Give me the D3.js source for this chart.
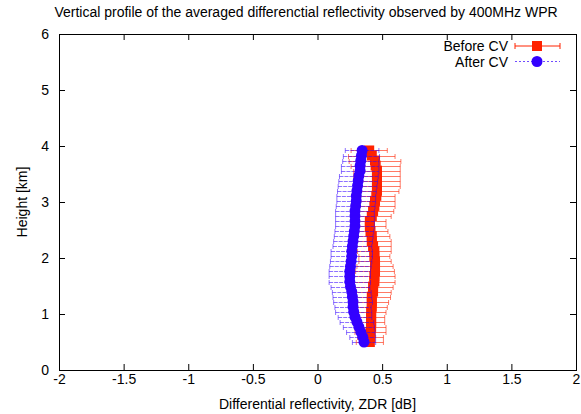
<!DOCTYPE html>
<html>
<head>
<meta charset="utf-8">
<script src="https://cdn.jsdelivr.net/npm/d3@7"></script>
<style>
  body { margin: 0; background: #fff; }
  svg text { font-family: "Liberation Sans", Arial, sans-serif; }
</style>
</head>
<body>
<svg id="chart" width="581" height="414"></svg>
<script>
// heights (km), top to bottom
var heights = [3.92, 3.83, 3.74, 3.65, 3.56, 3.47, 3.38, 3.29, 3.20, 3.11,
               3.02, 2.93, 2.84, 2.75, 2.66, 2.57, 2.48, 2.39, 2.30, 2.21,
               2.12, 2.03, 1.94, 1.85, 1.76, 1.67, 1.58, 1.49, 1.40, 1.31,
               1.22, 1.13, 1.04, 0.95, 0.86, 0.77, 0.68, 0.59, 0.50];

// Before CV: mean ZDR and error half width
var beforeVal = [0.40, 0.42, 0.445, 0.45, 0.46, 0.46, 0.46, 0.46, 0.46, 0.455,
                 0.445, 0.44, 0.43, 0.42, 0.405, 0.405, 0.41, 0.42, 0.42, 0.43,
                 0.44, 0.44, 0.445, 0.445, 0.445, 0.44, 0.44, 0.43, 0.43, 0.42,
                 0.42, 0.42, 0.415, 0.415, 0.415, 0.415, 0.41, 0.41, 0.405];
var beforeErr = [0.14, 0.18, 0.20, 0.19, 0.18, 0.18, 0.18, 0.18, 0.17, 0.145,
                 0.155, 0.16, 0.16, 0.15, 0.125, 0.125, 0.135, 0.14, 0.15, 0.14,
                 0.13, 0.12, 0.125, 0.14, 0.15, 0.16, 0.16, 0.155, 0.14, 0.145,
                 0.13, 0.12, 0.115, 0.105, 0.105, 0.115, 0.12, 0.10, 0.105];

// After CV
var afterVal = [0.345, 0.34, 0.335, 0.33, 0.33, 0.32, 0.315, 0.31, 0.305, 0.30,
                0.30, 0.295, 0.29, 0.29, 0.29, 0.29, 0.285, 0.28, 0.275, 0.27,
                0.265, 0.265, 0.26, 0.255, 0.25, 0.25, 0.25, 0.255, 0.265, 0.27,
                0.275, 0.275, 0.28, 0.29, 0.305, 0.32, 0.335, 0.35, 0.36];
var afterErr = [0.13, 0.14, 0.14, 0.145, 0.145, 0.15, 0.15, 0.15, 0.15, 0.15,
                0.15, 0.15, 0.15, 0.15, 0.15, 0.15, 0.15, 0.15, 0.15, 0.15,
                0.16, 0.16, 0.16, 0.16, 0.16, 0.16, 0.16, 0.15, 0.15, 0.15,
                0.15, 0.14, 0.14, 0.13, 0.13, 0.12, 0.11, 0.10, 0.09];

var xTicks = [-2, -1.5, -1, -0.5, 0, 0.5, 1, 1.5, 2];
var yTicks = [0, 1, 2, 3, 4, 5, 6];

var RED = "#ff2200", BLUE = "#3300ff";
var FS = 14;

var svg = d3.select("#chart");
var padL = 59, padR = 576, padT = 34, padB = 370;

var x = d3.scaleLinear().domain([-2, 2]).range([padL, padR]);
var y = d3.scaleLinear().domain([0, 6]).range([padB, padT]);

function series(vals, errs) {
    return heights.map(function(h, i) { return { h: h, v: vals[i], e: errs[i] }; });
}
var before = series(beforeVal, beforeErr);
var after = series(afterVal, afterErr);

var plain = function(d) { return String(d); };

// axes with inward ticks, mirrored on top and right
svg.append("g").attr("transform", "translate(0," + padB + ")")
    .call(d3.axisBottom(x).tickValues(xTicks).tickSize(-6).tickPadding(4).tickFormat(plain));
svg.append("g").attr("transform", "translate(" + padL + ",0)")
    .call(d3.axisLeft(y).tickValues(yTicks).tickSize(-6).tickPadding(10).tickFormat(plain));
svg.append("g").attr("transform", "translate(0," + padT + ")")
    .call(d3.axisTop(x).tickValues(xTicks).tickSize(-6).tickFormat(""));
svg.append("g").attr("transform", "translate(" + padR + ",0)")
    .call(d3.axisRight(y).tickValues(yTicks).tickSize(-6).tickFormat(""));

svg.selectAll(".domain").remove();
svg.selectAll(".tick line").attr("stroke", "#000");
svg.selectAll(".tick text").attr("font-size", FS).attr("fill", "#000")
    .attr("font-family", "Liberation Sans, Arial, sans-serif");

svg.append("rect").attr("x", padL + 0.5).attr("y", padT + 0.5)
    .attr("width", padR - padL).attr("height", padB - padT)
    .attr("fill", "none").attr("stroke", "#000").attr("stroke-width", 1);

function errorBars(data, color, dash, op) {
    var g = svg.append("g").attr("stroke", color).attr("stroke-width", 1)
        .attr("stroke-opacity", op).attr("fill", "none");
    data.forEach(function(d) {
        var yy = Math.round(y(d.h)) + 0.5;
        var x0 = x(d.v - d.e), x1 = x(d.v + d.e);
        g.append("line").attr("x1", x0).attr("x2", x1).attr("y1", yy).attr("y2", yy)
            .attr("stroke-dasharray", dash);
        g.append("line").attr("x1", x0).attr("x2", x0).attr("y1", yy - 2.5).attr("y2", yy + 2.5);
        g.append("line").attr("x1", x1).attr("x2", x1).attr("y1", yy - 2.5).attr("y2", yy + 2.5);
    });
}

errorBars(before, RED, null, 0.6);
svg.append("g").selectAll("rect").data(before).enter().append("rect")
    .attr("x", function(d) { return x(d.v) - 5; })
    .attr("y", function(d) { return y(d.h) - 5; })
    .attr("width", 10).attr("height", 10).attr("fill", RED);

errorBars(after, BLUE, "4,1", 0.55);
svg.append("g").selectAll("circle").data(after).enter().append("circle")
    .attr("cx", function(d) { return x(d.v); })
    .attr("cy", function(d) { return y(d.h); })
    .attr("r", 5.5).attr("fill", BLUE);

// legend
var leg = svg.append("g");
var legItems = [
    { label: "Before CV", color: RED, dash: null, yy: 46 },
    { label: "After CV", color: BLUE, dash: "2,2", yy: 61.5 }
];
legItems.forEach(function(it) {
    leg.append("text").attr("x", 508).attr("y", it.yy + 5).attr("text-anchor", "end")
        .attr("font-size", FS).text(it.label);
    leg.append("line").attr("x1", 515).attr("x2", 560).attr("y1", it.yy).attr("y2", it.yy)
        .attr("stroke", it.color).attr("stroke-opacity", it.dash ? 0.7 : 1)
        .attr("stroke-dasharray", it.dash);
    if (!it.dash) {
        [515, 560].forEach(function(cx) {
            leg.append("line").attr("x1", cx).attr("x2", cx)
                .attr("y1", it.yy - 3).attr("y2", it.yy + 3).attr("stroke", it.color);
        });
        leg.append("rect").attr("x", 532).attr("y", it.yy - 5).attr("width", 10).attr("height", 10)
            .attr("fill", it.color);
    } else {
        leg.append("circle").attr("cx", 537).attr("cy", it.yy).attr("r", 5.5).attr("fill", it.color);
    }
});

// titles
svg.append("text").attr("x", 306).attr("y", 17).attr("text-anchor", "middle")
    .attr("font-size", FS).text("Vertical profile of the averaged differenctial reflectivity observed by 400MHz WPR");
svg.append("text").attr("x", (padL + padR) / 2).attr("y", 409).attr("text-anchor", "middle")
    .attr("font-size", FS).text("Differential reflectivity, ZDR [dB]");
svg.append("text").attr("transform", "translate(27," + (padT + padB) / 2 + ") rotate(-90)")
    .attr("text-anchor", "middle").attr("font-size", FS).text("Height [km]");
</script>
</body>
</html>
